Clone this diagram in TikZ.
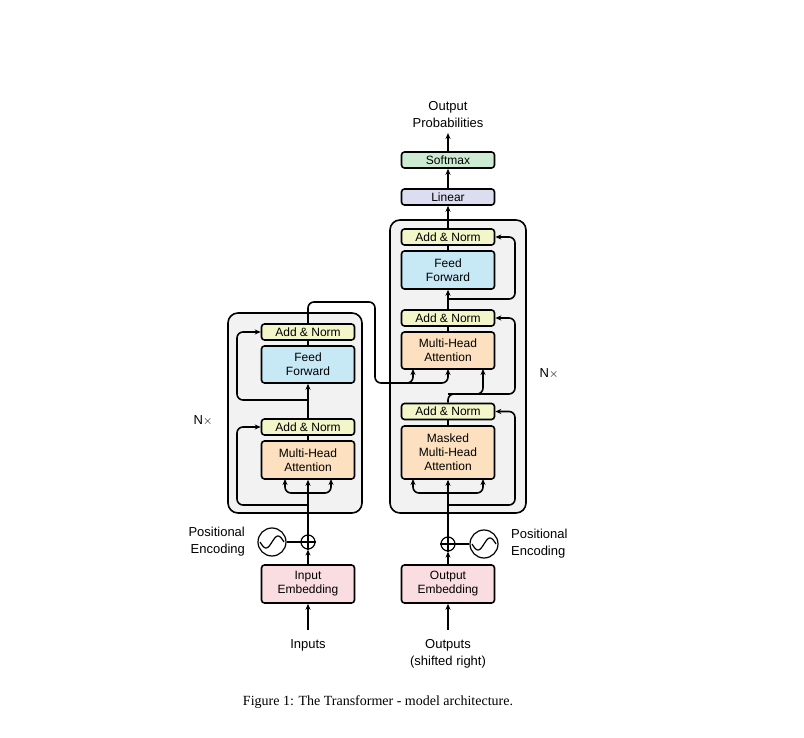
\documentclass[tikz,border=0pt]{standalone}
\usepackage{fontspec}
\setmainfont{Liberation Sans}
\newfontfamily\capfont{Liberation Serif}
\usetikzlibrary{arrows.meta}
\definecolor{cAN}{HTML}{F3F6C8}
\definecolor{cFF}{HTML}{C7E8F5}
\definecolor{cMH}{HTML}{FCE0C0}
\definecolor{cEM}{HTML}{FADDE1}
\definecolor{cLI}{HTML}{DCDDF0}
\definecolor{cSM}{HTML}{CDEBD3}
\definecolor{cBG}{HTML}{F2F2F2}
\begin{document}
\begin{tikzpicture}[x=1pt,y=-1pt,line width=1.6pt,
  box/.style={draw,rounded corners=3pt,minimum width=93pt,align=center,inner sep=0pt,font=\fontsize{12}{14}\selectfont},
  an/.style={box,fill=cAN,minimum height=16pt},
  txt/.style={align=center,font=\fontsize{13}{17}\selectfont},
  arr/.style={-{Stealth[length=6pt,width=5pt]}},
  rc/.style={rounded corners=6pt}]
\useasboundingbox (0,0) rectangle (804,738);
% backgrounds
\node[draw,fill=cBG,rounded corners=10pt,minimum width=134pt,minimum height=200pt,inner sep=0pt] (encbg) at (295,413) {};
\node[draw,fill=cBG,rounded corners=10pt,minimum width=136pt,minimum height=293pt,inner sep=0pt] (decbg) at (458,366.5) {};
% encoder
\node[an] (ean2) at (308,332) {Add \& Norm};
\node[box,fill=cFF,minimum height=37pt] (eff) at (308,364.5) {Feed\\Forward};
\node[an] (ean1) at (308,427) {Add \& Norm};
\node[box,fill=cMH,minimum height=38pt] (emh) at (308,460) {Multi-Head\\Attention};
\node[box,fill=cEM,minimum height=38pt] (eemb) at (308,584) {Input\\Embedding};
\node[draw,circle,minimum size=14pt,inner sep=0pt,line width=1.2pt] (eplus) at (308,542) {};
\draw[line width=1.2pt] (eplus.north)--(eplus.south) (eplus.west)--(eplus.east);
\node[draw,circle,minimum size=28pt,inner sep=0pt,line width=1.2pt] (esin) at (272,542) {};
\draw[line width=1.2pt] plot[domain=-12:12,samples=40] ({272+\x},{542-6*sin(\x*15)});
\node[txt,align=right,anchor=east] (epos) at (249,542) {Positional\\Encoding};
\node[txt] (inp) at (308,645) {Inputs};
\coordinate (inpt) at (308,630);
\node[txt] (nxl) at (203,421) {N$\times$};
% decoder
\node[an] (dan3) at (448,237) {Add \& Norm};
\node[box,fill=cFF,minimum height=38pt] (dff) at (448,270) {Feed\\Forward};
\node[an] (dan2) at (448,318) {Add \& Norm};
\node[box,fill=cMH,minimum height=37pt] (dmh) at (448,350.5) {Multi-Head\\Attention};
\node[an] (dan1) at (448,411.5) {Add \& Norm};
\node[box,fill=cMH,minimum height=53pt] (dmm) at (448,452.5) {Masked\\Multi-Head\\Attention};
\node[box,fill=cLI,minimum height=16pt] (lin) at (448,197) {Linear};
\node[box,fill=cSM,minimum height=16pt] (smx) at (448,160) {Softmax};
\node[txt] (outp) at (448,115) {Output\\Probabilities};
\coordinate (outpb) at (448,133);
\node[box,fill=cEM,minimum height=38pt] (demb) at (448,584) {Output\\Embedding};
\node[draw,circle,minimum size=14pt,inner sep=0pt,line width=1.2pt] (dplus) at (448,544) {};
\draw[line width=1.2pt] (dplus.north)--(dplus.south) (dplus.west)--(dplus.east);
\node[draw,circle,minimum size=28pt,inner sep=0pt,line width=1.2pt] (dsin) at (484,544) {};
\draw[line width=1.2pt] plot[domain=-12:12,samples=40] ({484+\x},{544-6*sin(\x*15)});
\node[txt,align=left,anchor=west] (dpos) at (507,544) {Positional\\Encoding};
\node[txt] (outs) at (448,654) {Outputs\\(shifted right)};
\coordinate (outst) at (448,630);
\node[txt] (nxr) at (549,374) {N$\times$};
\node[font=\capfont\fontsize{14}{16}\selectfont] (cap) at (378,702) {Figure 1: The Transformer - model architecture.};
% encoder connectors
\draw[arr] (inpt)--(eemb.south);
\draw[arr] (eemb.north)--(eplus.south);
\draw[line width=1.2pt] (esin.east)--(eplus.west);
\draw[arr] (eplus.north)--(emh.south);
\draw[arr,rc] (308,493)--(285,493)--(285,479);
\draw[arr,rc] (308,493)--(331,493)--(331,479);
\draw[arr,rc] (308,505)--(237,505)--(237,427)--(ean1.west);
\draw (emh.north)--(ean1.south);
\draw[arr] (ean1.north)--(eff.south);
\draw[arr,rc] (308,400)--(237,400)--(237,332)--(ean2.west);
\draw (eff.north)--(ean2.south);
\draw[rc] (ean2.north)--(308,302)--(375,302)--(375,383)--(420,383);
\draw[arr,rc] (400,383)--(413,383)--(413,369);
\draw[arr,rc] (413,383)--(448,383)--(448,369);
% decoder connectors
\draw[arr] (outst)--(demb.south);
\draw[arr] (demb.north)--(dplus.south);
\draw[line width=1.2pt] (dsin.west)--(dplus.east);
\draw[arr] (dplus.north)--(dmm.south);
\draw[arr,rc] (448,493)--(413,493)--(413,479);
\draw[arr,rc] (448,493)--(483,493)--(483,479);
\draw[arr,rc] (448,505)--(515,505)--(515,411.5)--(dan1.east);
\draw (dmm.north)--(dan1.south);
\draw[arr,rc] (dan1.north)--(448,394)--(483,394)--(483,369);
\draw[arr,rc] (448,394)--(515,394)--(515,318)--(dan2.east);
\draw (dmh.north)--(dan2.south);
\draw[arr] (dan2.north)--(dff.south);
\draw[arr,rc] (448,299)--(515,299)--(515,237)--(dan3.east);
\draw (dff.north)--(dan3.south);
\draw[arr] (dan3.north)--(lin.south);
\draw[arr] (lin.north)--(smx.south);
\draw[arr] (smx.north)--(outpb);
\end{tikzpicture}
\end{document}
